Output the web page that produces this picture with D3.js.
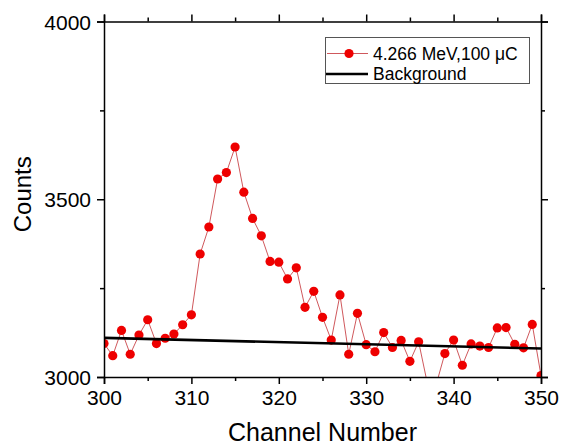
<!DOCTYPE html>
<html>
<head>
<meta charset="utf-8">
<script src="https://cdn.jsdelivr.net/npm/d3@7"></script>
<style>
  body { margin: 0; background: #fff; }
  text { font-family: "Liberation Sans", Arial, sans-serif; fill: #000; }
</style>
</head>
<body>
<div id="container"></div>
<script>
const width = 561;
const height = 447;

// data
const channels = d3.range(300, 351);
const counts = [
  3094, 3060, 3131, 3064, 3118, 3161, 3094, 3109, 3121, 3147,
  3175, 3346, 3422, 3557, 3575, 3647, 3520, 3446, 3397, 3325,
  3323, 3276, 3307, 3196, 3241, 3168, 3104, 3231, 3064, 3179,
  3091, 3071, 3125, 3083, 3103, 3044, 3099, 2982, 2978, 3066,
  3104, 3033, 3093, 3087, 3083, 3138, 3139, 3092, 3082, 3148,
  3004
];
const backgroundChannels = [300, 350];
const backgroundCounts = [3110, 3080];

const xTicks = [300, 310, 320, 330, 340, 350];
const xMinor = [305, 315, 325, 335, 345];
const yTicks = [3000, 3500, 4000];
const yMinor = [3250, 3750];

const seriesName = "4.266 MeV,100 \u03bcC";
const backgroundName = "Background";

const plotLeft = 104, plotRight = 541, plotTop = 21.5, plotBottom = 377;

let svg;
const x = d3.scaleLinear().domain([300, 350]).range([plotLeft, plotRight]);
const y = d3.scaleLinear().domain([3000, 4000]).range([plotBottom, plotTop]);

function prepareVis() {
  svg = d3.select("#container")
    .append("svg")
    .attr("width", width)
    .attr("height", height);

  svg.append("clipPath").attr("id", "plot")
    .append("rect")
    .attr("x", plotLeft).attr("y", plotTop)
    .attr("width", plotRight - plotLeft).attr("height", plotBottom - plotTop);
}

function drawAxis(axisFn, scale, transform, labels) {
  const major = axisFn(scale).tickValues(scale === x ? xTicks : yTicks)
    .tickSize(7).tickPadding(5)
    .tickFormat(labels ? d3.format("d") : "");
  const minor = axisFn(scale).tickValues(scale === x ? xMinor : yMinor)
    .tickSize(4).tickFormat("");

  const gMinor = svg.append("g").attr("transform", transform).call(minor);
  gMinor.select(".domain").remove();
  const g = svg.append("g").attr("transform", transform).call(major);

  svg.selectAll("g path.domain, g .tick line")
    .attr("stroke", "#000").attr("stroke-width", 1.5);
  g.selectAll("text")
    .attr("font-size", 21)
    .attr("fill", "#000")
    .attr("dy", null);
  return g;
}

function drawVis() {
  // data line and markers
  const plot = svg.append("g").attr("clip-path", "url(#plot)");

  const line = d3.line()
    .x((d, i) => x(channels[i]))
    .y(d => y(d));

  plot.append("path")
    .datum(counts)
    .attr("d", line)
    .attr("fill", "none")
    .attr("stroke", "#c9454a")
    .attr("stroke-width", 0.9);

  plot.selectAll("circle.pt")
    .data(counts)
    .join("circle")
    .attr("class", "pt")
    .attr("cx", (d, i) => x(channels[i]))
    .attr("cy", d => y(d))
    .attr("r", 4.6)
    .attr("fill", "#ee0000");

  // background fit
  plot.append("path")
    .datum(backgroundCounts)
    .attr("d", d3.line().x((d, i) => x(backgroundChannels[i])).y(d => y(d)))
    .attr("stroke", "#000")
    .attr("stroke-width", 2.6)
    .attr("fill", "none");

  // axes
  const gx = drawAxis(d3.axisBottom, x, `translate(0,${plotBottom})`, true);
  drawAxis(d3.axisTop, x, `translate(0,${plotTop})`, false);
  const gy = drawAxis(d3.axisLeft, y, `translate(${plotLeft},0)`, true);
  drawAxis(d3.axisRight, y, `translate(${plotRight},0)`, false);

  gx.selectAll(".tick text").attr("y", 28);
  gy.selectAll(".tick text").attr("x", -13).attr("y", 7.5);

  // axis titles
  svg.append("text")
    .attr("x", (plotLeft + plotRight) / 2)
    .attr("y", 441)
    .attr("text-anchor", "middle")
    .attr("font-size", 25)
    .text("Channel Number");

  svg.append("text")
    .attr("transform", `translate(31,${(plotTop + plotBottom) / 2 - 5}) rotate(-90)`)
    .attr("text-anchor", "middle")
    .attr("font-size", 24)
    .text("Counts");

  // legend
  const lg = svg.append("g");
  lg.append("rect")
    .attr("x", 325.5).attr("y", 37.5)
    .attr("width", 204).attr("height", 46)
    .attr("fill", "#fff")
    .attr("stroke", "#555")
    .attr("stroke-width", 1);
  lg.append("line")
    .attr("x1", 327).attr("x2", 368).attr("y1", 53.5).attr("y2", 53.5)
    .attr("stroke", "#c9454a").attr("stroke-width", 0.9);
  lg.append("circle")
    .attr("cx", 349).attr("cy", 53.5).attr("r", 4.6).attr("fill", "#ee0000");
  lg.append("text")
    .attr("x", 373).attr("y", 59.5)
    .attr("font-size", 17.5)
    .text(seriesName);
  lg.append("line")
    .attr("x1", 326).attr("x2", 368).attr("y1", 74).attr("y2", 74)
    .attr("stroke", "#000").attr("stroke-width", 2.6);
  lg.append("text")
    .attr("x", 373).attr("y", 80)
    .attr("font-size", 17.5)
    .text(backgroundName);
}

function runApp() {
  prepareVis();
  drawVis();
}

runApp();
</script>
</body>
</html>
